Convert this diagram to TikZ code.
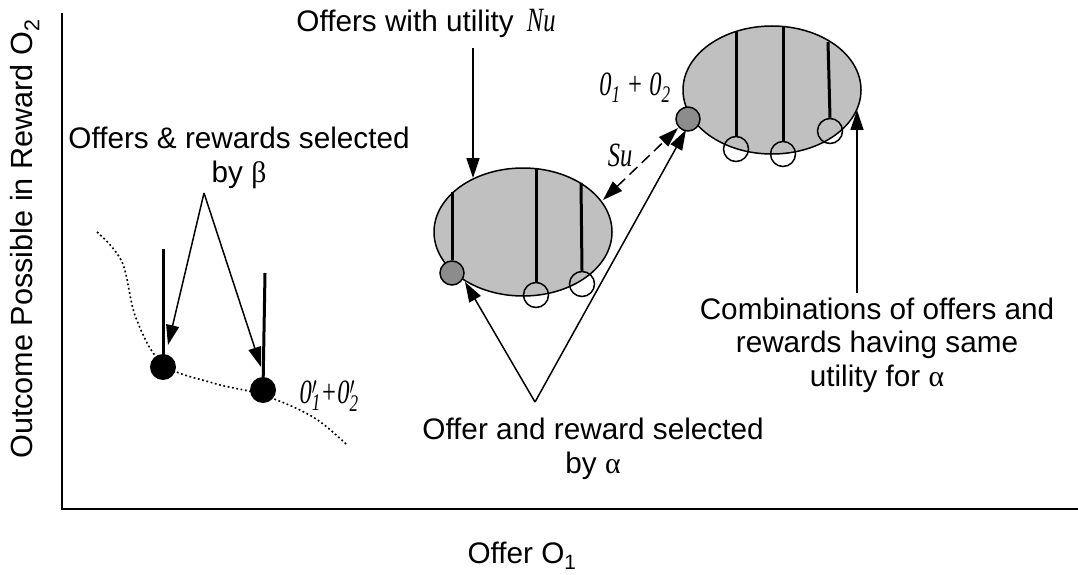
\documentclass[tikz,border=0pt]{standalone}
\usepackage{fontspec}
\setmainfont{Liberation Sans}
\newfontfamily\seriffam{Liberation Serif}
\usetikzlibrary{arrows.meta,shapes.geometric}
\definecolor{setgray}{RGB}{192,192,192}
\definecolor{dotgray}{RGB}{140,140,140}
\newcommand{\narrowit}[1]{{\seriffam\itshape\fontsize{34}{38}\selectfont\scalebox{0.72}[1]{#1}}}
\begin{document}
\begin{tikzpicture}[x=1pt,y=-1pt,
  lbl/.style={font=\fontsize{29.7}{33.5}\selectfont, align=center, inner sep=0pt},
  ital/.style={inner sep=0pt},
  axisline/.style={line width=2pt},
  ptr/.style={line width=1.5pt, -{Triangle[length=20pt,width=13pt]}},
  dptr/.style={line width=1.5pt, dash pattern=on 11pt off 6pt, {Triangle[length=20pt,width=13pt]}-{Triangle[length=20pt,width=13pt]}},
  stemline/.style={line width=3pt},
  bset/.style={ellipse, draw, line width=1.5pt, fill=setgray, minimum width=178pt, minimum height=128pt, inner sep=0pt},
  seldot/.style={circle, draw, line width=1.5pt, fill=dotgray, minimum size=24pt, inner sep=0pt},
  opendot/.style={circle, draw, line width=1.5pt, minimum size=25pt, inner sep=0pt},
  bdot/.style={circle, fill=black, minimum size=26pt, inner sep=0pt},
  frontier/.style={line width=1.6pt, dash pattern=on 1.8pt off 2.6pt}
]
\useasboundingbox (0,0) rectangle (1078,575);

% axes
\coordinate (ytop) at (62,13);
\coordinate (orig) at (62,509);
\coordinate (xend) at (1078,509);
\draw[axisline] (ytop) -- (orig) -- (xend);
\node[lbl, font=\fontsize{30.6}{34}\selectfont, rotate=90] (ylab) at (25,239) {Outcome Possible in Reward O\textsubscript{2}};
\node[lbl] (xlab) at (522,556) {Offer O\textsubscript{1}};

% beta frontier
\draw[frontier] plot[smooth, tension=0.6] coordinates {(97,232) (122,262) (136,318) (163,364) (213,383) (263,395) (313,417) (347,445)};
\node[bdot] (b1) at (163,367) {};
\node[bdot] (b2) at (263,390) {};
\coordinate (b1top) at (163,249);
\coordinate (b2top) at (265,273);
\draw[stemline] (b1top) -- (b1.center);
\draw[stemline] (b2top) -- (b2.center);
\node[ital] (bprime) at (329,396) {\narrowit{0\rlap{$'$}\textsubscript{1}+0\rlap{$'$}\textsubscript{2}}};

% left set
\node[bset] (e1) at (523,232) {};
\node[seldot] (s1) at (452,273) {};
\node[opendot] (c12) at (536,295) {};
\node[opendot] (c13) at (582,284) {};
\coordinate (t11) at (452,192);
\coordinate (t12) at (536,169);
\coordinate (t13) at (581,183);
\draw[stemline] (t11) -- (s1.north);
\draw[stemline] (t12) -- (c12.north);
\draw[stemline] (t13) -- (c13.north);

% right set
\node[bset] (e2) at (772,90) {};
\node[seldot] (s2) at (688,119) {};
\node[opendot] (c21) at (736,149) {};
\node[opendot] (c22) at (783,154) {};
\node[opendot] (c23) at (830,131) {};
\coordinate (t21) at (736,32);
\coordinate (t22) at (783,27);
\coordinate (t23) at (828,42);
\draw[stemline] (t21) -- (c21.north);
\draw[stemline] (t22) -- (c22.north);
\draw[stemline] (t23) -- (c23.north);

% labels
\node[lbl] (tNu) at (426,23) {Offers with utility \,\narrowit{Nu}};
\node[lbl] (tBeta) at (239,158) {Offers \& rewards selected\\by {\seriffam β}};
\node[lbl] (tAlpha) at (593,449) {Offer and reward selected\\by {\seriffam α}};
\node[lbl] (tComb) at (877,345) {Combinations of offers and\\rewards having same\\utility for {\seriffam α}};
\node[ital] (tO) at (635,88) {\narrowit{0\textsubscript{1} + 0\textsubscript{2}}};
\node[ital] (tSu) at (620,155) {\narrowit{Su}};

% arrows
\coordinate (nuS) at (473,48);
\coordinate (nuT) at (473,178);
\draw[ptr] (nuS) -- (nuT);

\coordinate (bApex) at (204,193);
\coordinate (bT1) at (168,345);
\coordinate (bT2) at (261,367);
\draw[ptr] (bApex) -- (bT1);
\draw[ptr] (bApex) -- (bT2);

\coordinate (aApex) at (535,402);
\coordinate (aT1) at (465,282);
\coordinate (aT2) at (686,130);
\draw[ptr] (aApex) -- (aT1);
\draw[ptr] (aApex) -- (aT2);

\coordinate (suA) at (603,200);
\coordinate (suB) at (678,128);
\draw[dptr] (suA) -- (suB);

\coordinate (cS) at (857,293);
\coordinate (cT) at (857,110);
\draw[ptr] (cS) -- (cT);
\end{tikzpicture}
\end{document}
